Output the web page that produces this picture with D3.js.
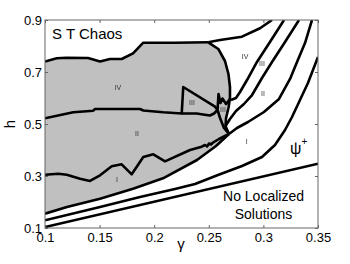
<!DOCTYPE html>
<html>
<head>
<meta charset="utf-8">
<script src="https://d3js.org/d3.v7.min.js"></script>
<style>
  body { margin: 0; background: #fff; }
  svg text { font-family: "Liberation Sans", Arial, sans-serif; }
  .lbl { font-size: 7px; fill: #333; }
</style>
</head>
<body>
<script>
// boundaries, [gamma, h]
var chaosEdge = [[0.1,0.7404],[0.1107,0.7527],[0.1199,0.755],[0.1394,0.7538],[0.1504,0.7404],
  [0.1595,0.75],[0.1702,0.75],[0.1806,0.7719],[0.19,0.8127],[0.219,0.8127],[0.2495,0.8142]];
var chaosTail = [[0.2495,0.8142],[0.2603,0.8231],[0.2804,0.8358],[0.2969,0.8681],[0.3079,0.9]];
var greyRight = [[0.2495,0.8142],[0.2587,0.7885],[0.2648,0.7423],[0.268,0.6923],[0.2694,0.6423],
  [0.2694,0.6],[0.268,0.5615],[0.2658,0.5231],[0.2653,0.4923],[0.2685,0.4615]];
var line1 = [[0.3189,0.9],[0.306,0.8154],[0.2941,0.7385],[0.285,0.6692],[0.2786,0.6231],[0.2749,0.6],[0.2703,0.5923]];
var line2 = [[0.3326,0.9],[0.3198,0.8154],[0.3079,0.7385],[0.2987,0.6769],[0.2896,0.6115],[0.2822,0.5769],
  [0.2749,0.55],[0.2694,0.5192],[0.2653,0.4923]];
var line3Upper = [[0.3445,0.9],[0.3381,0.8115],[0.3308,0.7385],[0.3244,0.6731],[0.3143,0.5962],[0.3005,0.5462],
  [0.2859,0.5077],[0.2758,0.4846],[0.2685,0.4615]];
var line3Lower = [[0.2685,0.4615],[0.2566,0.4154],[0.2392,0.3615],[0.2081,0.2912],[0.1806,0.2512],
  [0.1504,0.2127],[0.1201,0.1808],[0.1,0.155]];
var line4 = [[0.35,0.7577],[0.3408,0.6577],[0.3335,0.5923],[0.3262,0.5269],[0.3198,0.4769],[0.3106,0.4192],
  [0.2987,0.3731],[0.2804,0.3385],[0.2584,0.3038],[0.2374,0.2692],[0.219,0.25],[0.187,0.2192],[0.1504,0.1808],[0.1,0.1296]];
var line5 = [[0.1,0.1038],[0.35,0.3473]];
var ivBorder = [[0.1,0.5219],[0.1259,0.545],[0.1442,0.5512],[0.1458,0.5577],[0.187,0.5577],[0.19,0.5519],
  [0.2083,0.545],[0.2252,0.5404],[0.2266,0.6423],[0.2557,0.5665],[0.258,0.5538]];
var iiiBottom = [[0.2252,0.5404],[0.2389,0.5404],[0.2447,0.5365],[0.2511,0.5327],[0.2548,0.5404],[0.258,0.5538],
  [0.2589,0.6154],[0.2607,0.5808],[0.2625,0.5981],[0.2658,0.5769],[0.2694,0.5962]];
var spikeDown = [[0.258,0.5538],[0.2603,0.5231],[0.2639,0.4846],[0.2685,0.4615]];
var iBorder = [[0.1,0.305],[0.1122,0.3088],[0.1199,0.305],[0.1321,0.2896],[0.1412,0.2808],[0.1504,0.3027],
  [0.1611,0.3373],[0.1702,0.345],[0.1794,0.3065],[0.19,0.3731],[0.1992,0.3835],[0.2099,0.3565],[0.2328,0.4],
  [0.2435,0.4127],[0.2465,0.4192],[0.2484,0.4135],[0.2502,0.425],[0.252,0.4212],[0.2538,0.4288],[0.2593,0.4423],[0.2685,0.4615]];

var regionNames = ["IV","II","I","III","III","IV","III","II","I"];
var regionPos = [[0.1668,0.6404],[0.1842,0.4615],[0.1659,0.2846],[0.2346,0.5808],[0.263,0.5538],
  [0.2832,0.7577],[0.2987,0.7327],[0.2996,0.6154],[0.2847,0.4308]];

var xTicks = [0.1,0.15,0.2,0.25,0.3,0.35];
var yTicks = [0.1,0.3,0.5,0.7,0.9];

var W = 350, H = 264;
var m = {top: 20, right: 32, bottom: 36, left: 45};

var x = d3.scaleLinear().domain([0.1,0.35]).range([m.left, W - m.right]);
var y = d3.scaleLinear().domain([0.1,0.9]).range([H - m.bottom, m.top]);

var svg = d3.select("body").append("svg").attr("width", W).attr("height", H);

var defs = svg.append("defs");
defs.append("clipPath").attr("id","clip").append("rect")
  .attr("x", m.left).attr("y", m.top).attr("width", W - m.left - m.right).attr("height", H - m.top - m.bottom);
// plain filter so the tiny labels are drawn in grey, not with colour fringes
defs.append("filter").attr("id","flat").append("feOffset").attr("dx",0).attr("dy",0);

var line = d3.line().x(function(d){ return x(d[0]); }).y(function(d){ return y(d[1]); });

var g = svg.append("g").attr("clip-path","url(#clip)");

var greyPoly = chaosEdge.concat(greyRight.slice(1), line3Lower.slice(1));
g.append("path").attr("d", line(greyPoly) + "Z").attr("fill", "#c0c0c0").attr("stroke", "none");

[chaosEdge, chaosTail, greyRight, line1, line2, line3Upper, line3Lower, line4, line5,
 ivBorder, iiiBottom, spikeDown, iBorder].forEach(function(c){
  g.append("path").attr("d", line(c)).attr("fill","none").attr("stroke","#000")
    .attr("stroke-width", 2.6).attr("stroke-linejoin","round");
});

var lg = svg.append("g").attr("filter", "url(#flat)");
lg.selectAll(".lbl").data(regionNames).enter().append("text")
  .attr("class","lbl")
  .attr("x", function(d,i){ return x(regionPos[i][0]); })
  .attr("y", function(d,i){ return y(regionPos[i][1]); })
  .attr("text-anchor","middle").attr("dy","0.35em")
  .text(function(d){ return d; });

// axes box and ticks
svg.append("rect").attr("x", m.left).attr("y", m.top)
  .attr("width", W - m.left - m.right).attr("height", H - m.top - m.bottom)
  .attr("fill","none").attr("stroke","#666").attr("stroke-width",1);

svg.append("g").attr("transform","translate(0," + (H - m.bottom) + ")")
  .call(d3.axisBottom(x).tickValues(xTicks).tickSize(-3).tickSizeOuter(0).tickPadding(5).tickFormat(d3.format("")));
svg.append("g").attr("transform","translate(" + m.left + ",0)")
  .call(d3.axisLeft(y).tickValues(yTicks).tickSize(-3).tickSizeOuter(0).tickPadding(3).tickFormat(d3.format("")));
svg.append("g").attr("transform","translate(0," + m.top + ")")
  .call(d3.axisTop(x).tickValues(xTicks).tickSize(-3).tickSizeOuter(0).tickFormat(""));
svg.append("g").attr("transform","translate(" + (W - m.right) + ",0)")
  .call(d3.axisRight(y).tickValues(yTicks).tickSize(-3).tickSizeOuter(0).tickFormat(""));

svg.selectAll(".domain").remove();
svg.selectAll(".tick line").attr("stroke","#666");
svg.selectAll(".tick text").attr("font-size", 13).attr("fill","#000")
  .attr("font-family","'Liberation Sans', Arial, sans-serif");

svg.append("text").attr("x", 52).attr("y", 38.5).attr("font-size", 15).text("S T Chaos");
svg.append("text").attr("x", 263.5).attr("y", 200.5).attr("font-size", 14).attr("text-anchor","middle").text("No Localized");
svg.append("text").attr("x", 263.5).attr("y", 219).attr("font-size", 14).attr("text-anchor","middle").text("Solutions");
var psi = svg.append("text").attr("x", 290).attr("y", 154).attr("font-size", 16);
psi.append("tspan").text("\u03C8");
psi.append("tspan").attr("font-size", 10).attr("dy", -9).text("+");

svg.append("text").attr("x", 181).attr("y", 249).attr("font-size", 15).attr("text-anchor","middle").text("\u03B3");
svg.append("text").attr("transform","translate(15,124) rotate(-90)").attr("font-size", 15)
  .attr("text-anchor","middle").text("h");
</script>
</body>
</html>
